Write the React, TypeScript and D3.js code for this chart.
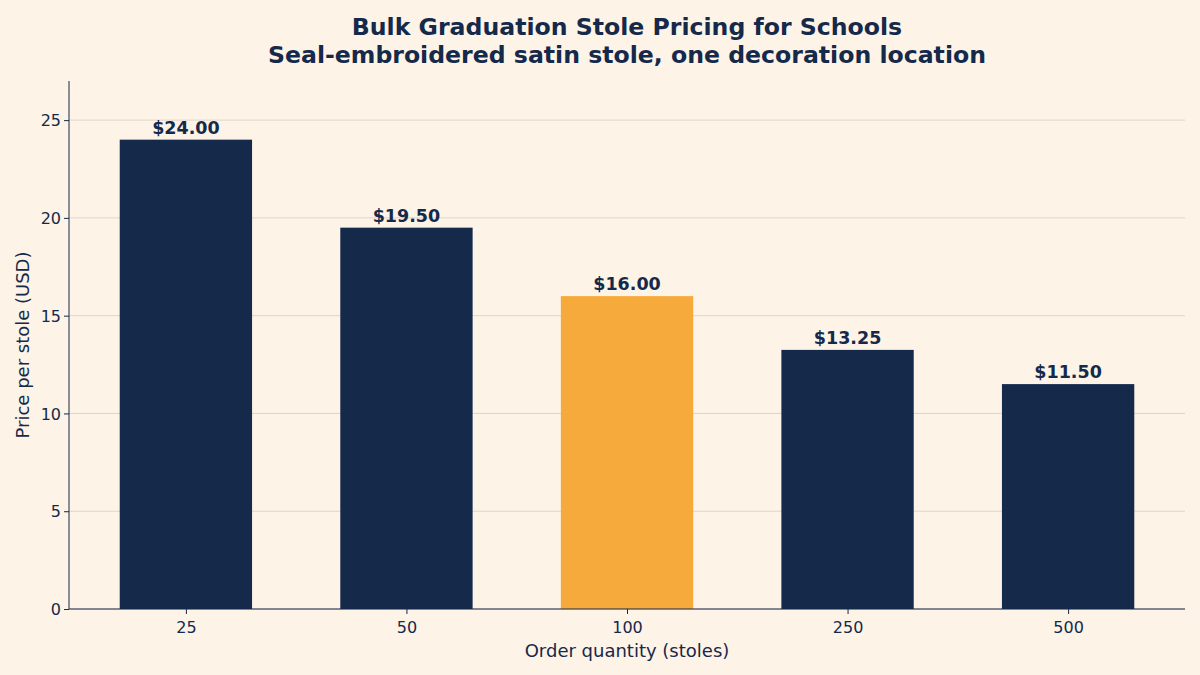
import React, { useEffect, useRef } from 'react';
import * as d3 from 'd3';

const quantities = ['25', '50', '100', '250', '500'];
const prices = [24.0, 19.5, 16.0, 13.25, 11.5];
const highlighted = ['100'];
const yTicks = [0, 5, 10, 15, 20, 25];

const NAVY = '#15294b';
const ORANGE = '#f5a533';
const BG = '#fdf3e6';

export default function App() {
  const svgRef = useRef<SVGSVGElement>(null);

  useEffect(() => {
    if (!svgRef.current) return;
    const svg = d3.select(svgRef.current);
    svg.selectAll('*').remove();

    const margin = { top: 81, right: 15, bottom: 66, left: 69 };
    const width = 1200 - margin.left - margin.right;
    const height = 675 - margin.top - margin.bottom;
    const font = '"DejaVu Sans", sans-serif';

    svg.append('rect').attr('width', 1200).attr('height', 675).attr('fill', BG);

    const g = svg.append('g').attr('transform', `translate(${margin.left},${margin.top})`);

    // matplotlib-like x limits: bars of width 0.6 with 5% margin
    const x = d3.scaleLinear().domain([-0.53, quantities.length - 1 + 0.53]).range([0, width]);
    const y = d3.scaleLinear().domain([0, 27]).range([height, 0]);
    const barW = x(0.6) - x(0);

    // Grid
    g.append('g')
      .selectAll('line')
      .data(yTicks)
      .enter()
      .append('line')
      .attr('x1', 0)
      .attr('x2', width)
      .attr('y1', d => y(d))
      .attr('y2', d => y(d))
      .attr('stroke', '#c9c2b8')
      .attr('stroke-opacity', 0.6)
      .attr('stroke-width', 1);

    // Bars
    g.selectAll('rect.bar')
      .data(prices)
      .enter()
      .append('rect')
      .attr('class', 'bar')
      .attr('x', (d, i) => x(i) - barW / 2)
      .attr('y', d => y(d))
      .attr('width', barW)
      .attr('height', d => height - y(d))
      .attr('fill', (d, i) => (highlighted.includes(quantities[i]) ? ORANGE : NAVY))
      .attr('fill-opacity', (d, i) => (highlighted.includes(quantities[i]) ? 0.95 : 1));

    // Value labels
    g.selectAll('text.val')
      .data(prices)
      .enter()
      .append('text')
      .attr('x', (d, i) => x(i))
      .attr('y', d => y(d) - 6)
      .attr('text-anchor', 'middle')
      .style('font-family', font)
      .style('font-size', '17.5px')
      .style('font-weight', 'bold')
      .attr('fill', NAVY)
      .text(d => `$${d.toFixed(2)}`);

    // Axes
    const xAxis = g.append('g')
      .attr('transform', `translate(0,${height})`)
      .call(
        d3.axisBottom(x)
          .tickValues(d3.range(quantities.length))
          .tickFormat(i => quantities[i as number])
          .tickSizeOuter(0)
          .tickSize(5)
      );
    xAxis.select('.domain').remove();
    xAxis.selectAll('line').attr('stroke', NAVY);
    xAxis.selectAll('text')
      .attr('fill', NAVY)
      .attr('dy', '1em')
      .style('font-family', font)
      .style('font-size', '16px');

    const yAxis = g.append('g').call(d3.axisLeft(y).tickValues(yTicks).tickSize(5).tickSizeOuter(0));
    yAxis.select('.domain').remove();
    yAxis.selectAll('line').attr('stroke', NAVY);
    yAxis.selectAll('text')
      .attr('fill', NAVY)
      .attr('dy', '0.35em')
      .style('font-family', font)
      .style('font-size', '16px');

    // Spines
    g.append('line').attr('x1', 0).attr('x2', 0).attr('y1', 0).attr('y2', height)
      .attr('stroke', NAVY).attr('stroke-width', 1);
    g.append('line').attr('x1', 0).attr('x2', width).attr('y1', height).attr('y2', height)
      .attr('stroke', NAVY).attr('stroke-width', 1);

    // Titles
    const title = svg.append('text')
      .attr('x', 627)
      .attr('text-anchor', 'middle')
      .style('font-family', font)
      .style('font-size', '23.6px')
      .style('font-weight', 'bold')
      .attr('fill', NAVY);
    title.append('tspan').attr('x', 627).attr('y', 35).text('Bulk Graduation Stole Pricing for Schools');
    title.append('tspan').attr('x', 627).attr('y', 63).text('Seal-embroidered satin stole, one decoration location');

    svg.append('text')
      .attr('x', margin.left + width / 2)
      .attr('y', 657)
      .attr('text-anchor', 'middle')
      .style('font-family', font)
      .style('font-size', '18px')
      .attr('fill', NAVY)
      .text('Order quantity (stoles)');

    svg.append('text')
      .attr('transform', 'rotate(-90)')
      .attr('x', -(margin.top + height / 2))
      .attr('y', 29)
      .attr('text-anchor', 'middle')
      .style('font-family', font)
      .style('font-size', '18px')
      .attr('fill', NAVY)
      .text('Price per stole (USD)');
  }, []);

  return (
    <div style={{ position: 'absolute', left: 0, top: 0, width: 1200, height: 675 }}>
      <svg ref={svgRef} width={1200} height={675} style={{ display: 'block' }} />
    </div>
  );
}
